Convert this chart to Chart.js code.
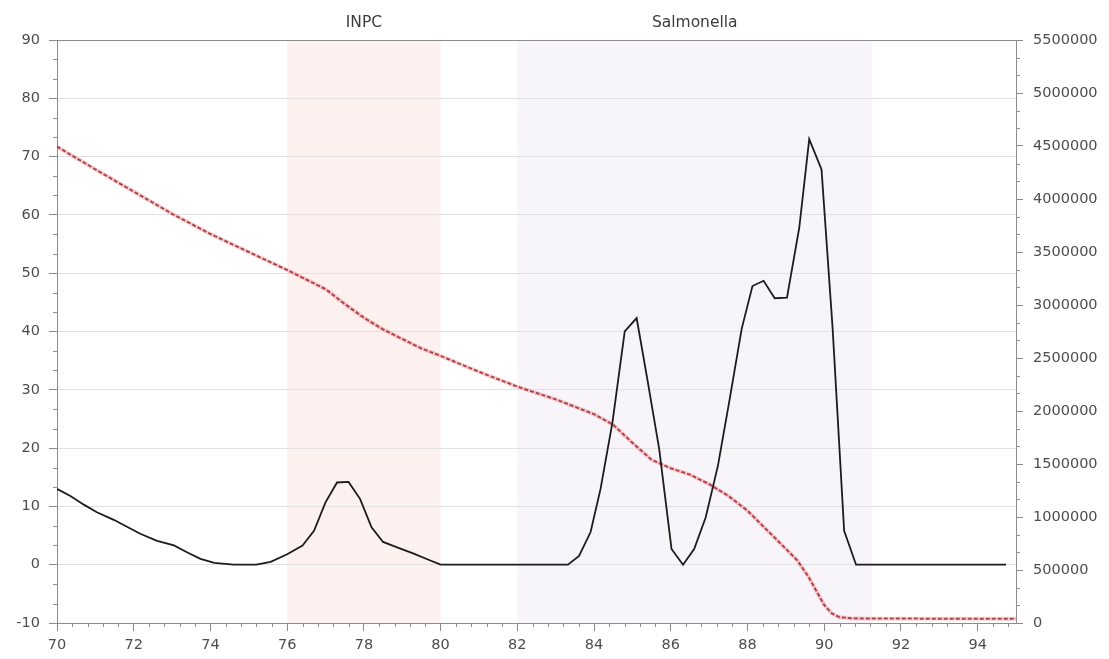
<!DOCTYPE html>
<html>
<head>
<meta charset="utf-8">
<title>INPC / Salmonella</title>
<script src="https://cdn.jsdelivr.net/npm/chart.js@4.4.1/dist/chart.umd.min.js"></script>
<style>
  html, body { margin: 0; padding: 0; background: #fff; }
</style>
</head>
<body>
<canvas id="chart" width="1109" height="659"></canvas>
<script>
// Black trace, left axis
const traceX = [70, 70.35, 70.7, 71.04, 71.48, 71.8, 72.17, 72.61, 73.05, 73.4, 73.74, 74.1, 74.6, 75.2,
    75.57, 76, 76.4, 76.7, 77.0, 77.3, 77.6, 77.9, 78.2, 78.5, 78.9, 79.3, 79.7, 80.0,
    83.32, 83.61, 83.91, 84.17, 84.48, 84.8, 85.11, 85.39, 85.7, 86.02, 86.32, 86.61, 86.91,
    87.23, 87.52, 87.85, 88.13, 88.42, 88.71, 89.03, 89.35, 89.61, 89.93, 90.22, 90.52, 90.83, 94.74];
const traceY = [13.0, 11.8, 10.3, 9.0, 7.7, 6.6, 5.3, 4.1, 3.3, 2.1, 1.0, 0.3, 0, 0,
    0.5, 1.8, 3.3, 5.8, 10.7, 14.1, 14.2, 11.3, 6.4, 3.9, 2.9, 1.9, 0.8, 0,
    0, 1.5, 5.6, 13.0, 24.4, 40.0, 42.3, 31.8, 19.8, 2.7, 0, 2.7, 8.1,
    17.0, 27.8, 40.5, 47.8, 48.7, 45.7, 45.8, 57.8, 73.0, 67.8, 40.5, 5.8, 0, 0];

// Red dashed trace, right axis
const cumX = [70, 71, 72, 73, 74, 75, 76, 76.5, 77, 77.5, 78, 78.5, 79, 79.5, 80, 81, 82, 83, 84,
    84.5, 85, 85.5, 86, 86.5, 87, 87.5, 88, 88.5, 89, 89.3, 89.6, 89.8, 90, 90.2, 90.4, 90.7, 91, 95];
const cumY = [4494000, 4280000, 4070000, 3860000, 3670000, 3500000, 3330000, 3240000, 3150000,
    3010000, 2880000, 2770000, 2680000, 2590000, 2520000, 2370000, 2230000, 2110000, 1970000,
    1870000, 1700000, 1540000, 1460000, 1400000, 1310000, 1200000, 1060000, 880000, 700000,
    590000, 430000, 300000, 170000, 90000, 55000, 45000, 42000, 40000];

// Shaded regions
const regionNames = ['INPC', 'Salmonella'];
const regionStart = [76, 82];
const regionEnd = [80, 91.25];

// Axis ticks
const xTicks = [70, 72, 74, 76, 78, 80, 82, 84, 86, 88, 90, 92, 94];
const leftTicks = [-10, 0, 10, 20, 30, 40, 50, 60, 70, 80, 90];
const rightTicks = [0, 500000, 1000000, 1500000, 2000000, 2500000, 3000000, 3500000,
    4000000, 4500000, 5000000, 5500000];

const regionColors = ['#fdf1f0', '#f8f5fa'];
const axisColor = '#8c8c8c';
const gridColor = '#e1e1e1';
const labelColor = '#4d4d4d';
const tickFont = { family: 'DejaVu Sans', size: 14.5 };

// Shaded bands and their titles above the plot
const regionPlugin = {
    id: 'regions',
    beforeDraw(chart) {
        const { ctx, chartArea, scales } = chart;
        ctx.save();
        regionNames.forEach((name, i) => {
            const x0 = scales.x.getPixelForValue(regionStart[i]);
            const x1 = scales.x.getPixelForValue(regionEnd[i]);
            ctx.fillStyle = regionColors[i];
            ctx.fillRect(x0, chartArea.top, x1 - x0, chartArea.bottom - chartArea.top);
        });
        ctx.restore();
    },
    afterDraw(chart) {
        const { ctx, chartArea, scales } = chart;
        ctx.save();
        ctx.fillStyle = '#3c3c3c';
        ctx.font = '15.5px "DejaVu Sans"';
        ctx.textAlign = 'center';
        ctx.textBaseline = 'middle';
        regionNames.forEach((name, i) => {
            const xc = scales.x.getPixelForValue((regionStart[i] + regionEnd[i]) / 2);
            ctx.fillText(name, xc, chartArea.top - 17);
        });
        ctx.restore();
    }
};

// Minor tick marks and the top frame line
const minorTickPlugin = {
    id: 'minorTicks',
    afterDraw(chart) {
        const { ctx, chartArea, scales } = chart;
        ctx.save();
        ctx.strokeStyle = axisColor;
        ctx.lineWidth = 1;
        ctx.beginPath();
        ctx.moveTo(chartArea.left, chartArea.top + 0.5);
        ctx.lineTo(chartArea.right, chartArea.top + 0.5);
        // x: 0.4 steps, five per major interval
        for (let k = 1; k <= 62; k++) {
            if (k % 5 === 0) continue;
            const px = Math.round(scales.x.getPixelForValue(70 + k * 0.4)) + 0.5;
            ctx.moveTo(px, chartArea.bottom);
            ctx.lineTo(px, chartArea.bottom + 4);
        }
        // left: three steps per major interval
        for (let k = 1; k < 30; k++) {
            if (k % 3 === 0) continue;
            const py = Math.round(scales.y.getPixelForValue(-10 + k * 10 / 3)) + 0.5;
            ctx.moveTo(chartArea.left - 4, py);
            ctx.lineTo(chartArea.left, py);
        }
        // right: three steps per major interval
        for (let k = 1; k < 33; k++) {
            if (k % 3 === 0) continue;
            const py = Math.round(scales.y2.getPixelForValue(k * 500000 / 3)) + 0.5;
            ctx.moveTo(chartArea.right, py);
            ctx.lineTo(chartArea.right + 4, py);
        }
        ctx.stroke();
        ctx.restore();
    }
};

function fixedTicks(list) {
    return (scale) => { scale.ticks = list.map(v => ({ value: v })); };
}

const ctx = document.getElementById('chart').getContext('2d');
new Chart(ctx, {
    type: 'line',
    data: {
        datasets: [
            {
                label: 'trace',
                data: traceX.map((x, i) => ({ x, y: traceY[i] })),
                yAxisID: 'y',
                borderColor: '#1c1c1c',
                borderWidth: 1.8,
                pointRadius: 0,
                tension: 0
            },
            {
                label: 'cumulative',
                data: cumX.map((x, i) => ({ x, y: cumY[i] })),
                yAxisID: 'y2',
                borderColor: 'rgba(165, 55, 60, 0.9)',
                borderWidth: 2,
                borderDash: [4, 2],
                pointRadius: 0,
                tension: 0
            },
            {
                label: 'cumulative halo',
                data: cumX.map((x, i) => ({ x, y: cumY[i] })),
                yAxisID: 'y2',
                borderColor: 'rgba(240, 140, 145, 0.4)',
                borderWidth: 4,
                pointRadius: 0,
                tension: 0
            }
        ]
    },
    options: {
        responsive: false,
        animation: false,
        devicePixelRatio: 1,
        layout: { padding: { top: 40, left: 0, right: 0, bottom: 0 } },
        plugins: {
            legend: { display: false },
            tooltip: { enabled: false }
        },
        scales: {
            x: {
                type: 'linear',
                min: 70,
                max: 95,
                afterBuildTicks: fixedTicks(xTicks),
                afterFit: (s) => { s.height = 36; },
                grid: { drawOnChartArea: false, tickLength: 8, tickColor: axisColor },
                border: { color: axisColor },
                ticks: { font: tickFont, color: labelColor, padding: 6, maxRotation: 0, autoSkip: false }
            },
            y: {
                position: 'left',
                min: -10,
                max: 90,
                afterBuildTicks: fixedTicks(leftTicks),
                afterFit: (s) => { s.width = 57; },
                grid: { color: gridColor, tickLength: 8, tickColor: axisColor },
                border: { color: axisColor },
                ticks: { font: tickFont, color: labelColor, padding: 9, autoSkip: false }
            },
            y2: {
                position: 'right',
                min: 0,
                max: 5500000,
                afterBuildTicks: fixedTicks(rightTicks),
                afterFit: (s) => { s.width = 93; },
                grid: { drawOnChartArea: false, tickLength: 7, tickColor: axisColor },
                border: { color: axisColor },
                ticks: {
                    font: tickFont, color: labelColor, padding: 10, autoSkip: false,
                    callback: (v) => String(v)
                }
            }
        }
    },
    plugins: [regionPlugin, minorTickPlugin]
});
</script>
</body>
</html>
